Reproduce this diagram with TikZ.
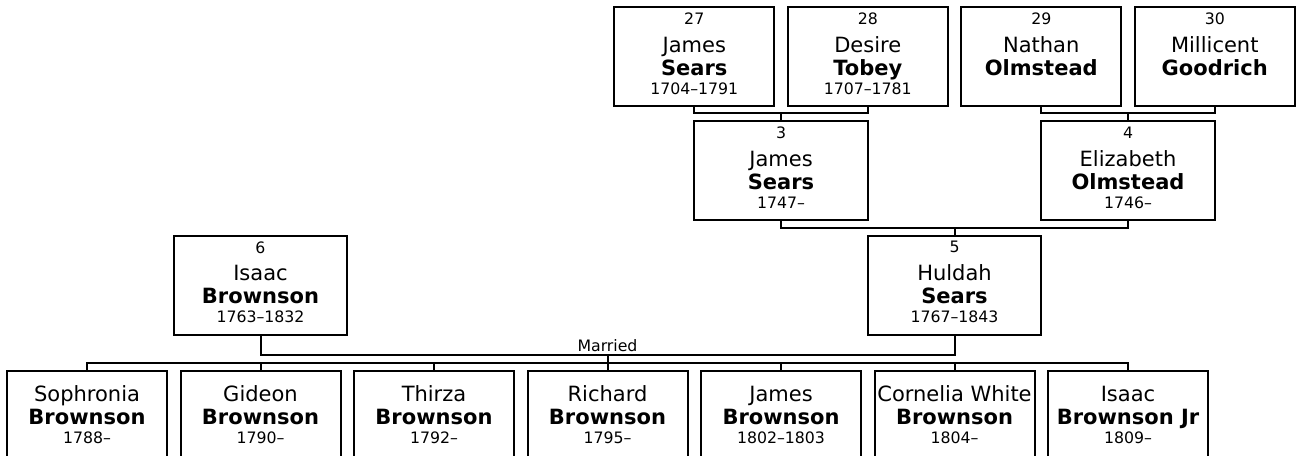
\documentclass[tikz,border=0pt]{standalone}
\usepackage{fontspec}
\setmainfont{DejaVu Sans}
\newcommand{\smallfont}{\fontsize{11.8}{13.5}\selectfont}
\newcommand{\ancestor}[4]{{\smallfont #1}\\[3.5pt]#2\\{\bfseries #3}\\[-3pt]{\smallfont #4\rule[-4.5pt]{0pt}{0pt}}}
\newcommand{\child}[3]{#1\\{\bfseries #2}\\[-3pt]{\smallfont #3}}

\begin{document}
\begin{tikzpicture}[x=0.75pt,y=-0.75pt]
 \tikzset{person/.style = {draw,line width=1.5pt,align=center,inner sep=1pt,minimum width=120pt,minimum height=74.25pt,font=\fontsize{15.75}{17.25}\selectfont}}
 \tikzset{parent/.style = {person,minimum width=130pt}}
 \tikzset{kid/.style = {person,minimum height=66pt}}
 \tikzset{link/.style = {line width=1.5pt}}
 \path[use as bounding box] (0,0) rectangle (1299,456);
 \clip (0,0) rectangle (1299,456);

 \node[person] (p27) at (694.25,56.5) {\ancestor{27}{James}{Sears}{1704–1791}};
 \node[person] (p28) at (867.75,56.5) {\ancestor{28}{Desire}{Tobey}{1707–1781}};
 \node[person] (p29) at (1041.25,56.5) {\ancestor{29}{Nathan}{Olmstead}{}};
 \node[person] (p30) at (1214.75,56.5) {\ancestor{30}{Millicent}{Goodrich}{}};
 \node[parent] (p3) at (781,170.5) {\ancestor{3}{James}{Sears}{1747–}};
 \node[parent] (p4) at (1128,170.5) {\ancestor{4}{Elizabeth}{Olmstead}{1746–}};
 \node[parent] (p5) at (954.5,285) {\ancestor{5}{Huldah}{Sears}{1767–1843}};
 \node[parent] (p6) at (260.5,285) {\ancestor{6}{Isaac}{Brownson}{1763–1832}};

 \node[kid] (c1) at (87,415) {\child{Sophronia}{Brownson}{1788–}};
 \node[kid] (c2) at (260.5,415) {\child{Gideon}{Brownson}{1790–}};
 \node[kid] (c3) at (434,415) {\child{Thirza}{Brownson}{1792–}};
 \node[kid] (c4) at (607.5,415) {\child{Richard}{Brownson}{1795–}};
 \node[kid] (c5) at (781,415) {\child{James}{Brownson}{1802–1803}};
 \node[kid] (c6) at (954.5,415) {\child{Cornelia White}{Brownson}{1804–}};
 \node[kid] (c7) at (1128,415) {\child{Isaac}{Brownson Jr}{1809–}};

 \coordinate (j3) at (781,113);
 \coordinate (j4) at (1128,113);
 \coordinate (j5) at (954.5,228);
 \coordinate (wed) at (607.5,355);
 \coordinate (kids) at (607.5,363);

 \draw[link] (p27.south) |- (j3) -| (p28.south);
 \draw[link] (j3) -- (p3.north);
 \draw[link] (p29.south) |- (j4) -| (p30.south);
 \draw[link] (j4) -- (p4.north);
 \draw[link] (p3.south) |- (j5) -| (p4.south);
 \draw[link] (j5) -- (p5.north);
 \draw[link] (p6.south) |- (wed) -| (p5.south);
 \node[anchor=south,inner sep=2pt,font=\smallfont] (married) at (wed) {Married};
 \draw[link] (wed) -- (kids);
 \draw[link] (c1.north) |- (kids) -| (c7.north);
 \draw[link] (kids -| c2) -- (c2.north);
 \draw[link] (kids -| c3) -- (c3.north);
 \draw[link] (kids) -- (c4.north);
 \draw[link] (kids -| c5) -- (c5.north);
 \draw[link] (kids -| c6) -- (c6.north);

\end{tikzpicture}
\end{document}
